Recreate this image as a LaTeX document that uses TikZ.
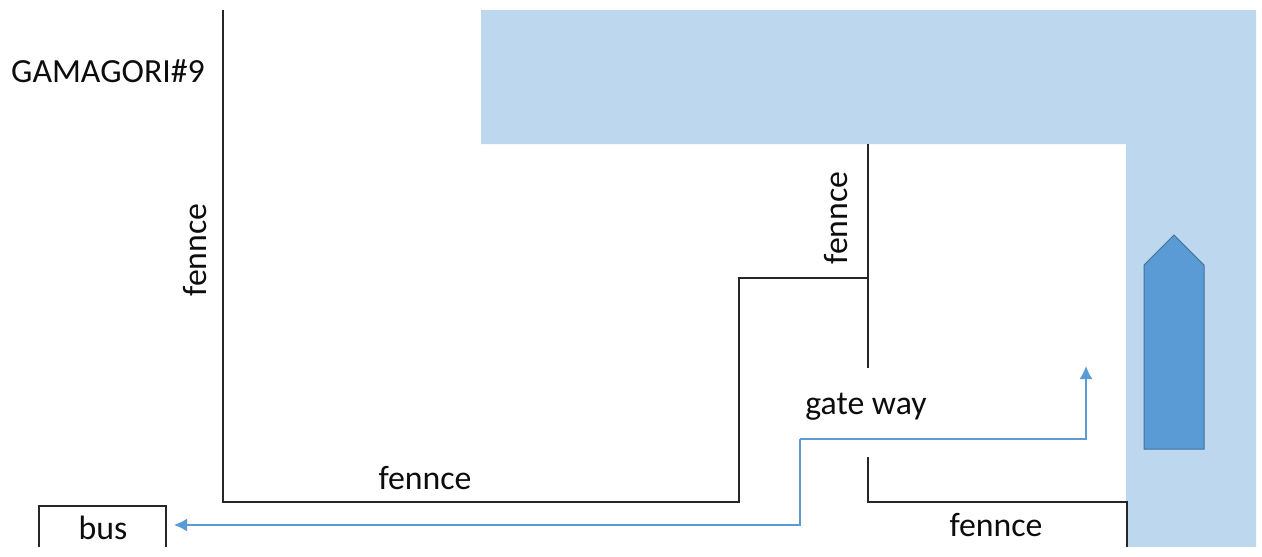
\documentclass[tikz,border=0pt]{standalone}
\usepackage{fontspec}
\setmainfont{Carlito}
\usetikzlibrary{arrows.meta}

\definecolor{waterblue}{HTML}{BDD7EE}
\definecolor{shipblue}{HTML}{5B9BD5}
\definecolor{shipedge}{HTML}{41719C}

\tikzset{
  fence/.style={draw=black!85, line width=1.6pt},
  route/.style={draw=shipblue, line width=1.6pt},
  label/.style={inner sep=0pt, font=\fontsize{33.8}{38}\selectfont, text=black!95}
}

\begin{document}
\begin{tikzpicture}[x=1pt,y=-1pt]
\useasboundingbox (0,0) rectangle (1262,557);

\fill[waterblue] (481,10) -- (1256,10) -- (1256,547) -- (1126,547) -- (1126,144) -- (481,144) -- cycle;
\filldraw[fill=shipblue, draw=shipedge, line width=1pt] (1144,265) -- (1174,235) -- (1204,265) -- (1204,449) -- (1144,449) -- cycle;

\coordinate (wallTop) at (223,10);
\coordinate (wallCorner) at (223,502);
\coordinate (stepBottom) at (739,502);
\coordinate (stepTop) at (739,278);
\coordinate (stepEnd) at (868,278);
\coordinate (upperTop) at (868,144);
\coordinate (upperEnd) at (868,368);
\coordinate (lowerTop) at (868,457);
\coordinate (lowerCorner) at (868,502);
\coordinate (quayCorner) at (1127,502);
\coordinate (quayEnd) at (1127,547);

\draw[fence] (wallTop) -- (wallCorner) -- (stepBottom) -- (stepTop) -- (stepEnd);
\draw[fence] (upperTop) -- (upperEnd);
\draw[fence] (lowerTop) -- (lowerCorner) -- (quayCorner) -- (quayEnd);

\coordinate (busLeft) at (39,547);
\coordinate (busTopLeft) at (39,506);
\coordinate (busTopRight) at (166,506);
\coordinate (busRight) at (166,547);
\draw[fence] (busLeft) -- (busTopLeft) -- (busTopRight) -- (busRight);

\coordinate (busEnd) at (174,525);
\coordinate (routeLow) at (800,525);
\coordinate (routeHigh) at (800,439);
\coordinate (routeTurn) at (1086,439);
\coordinate (shipEnd) at (1086,366);
\draw[route, -{Latex[length=13pt,width=13pt]}] (routeHigh) -- (routeLow) -- (busEnd);
\draw[route, -{Latex[length=13pt,width=13pt]}] (routeHigh) -- (routeTurn) -- (shipEnd);

\node[label] (ship name) at (108,71) {GAMAGORI\#9};
\node[label] (bus label) at (103,528) {bus};
\node[label] (gate label) at (866,407) {gate way};
\node[label, rotate=90] (fence west) at (195,250) {fennce};
\node[label, rotate=90] (fence inner) at (836,218) {fennce};
\node[label] (fence south) at (425,478) {fennce};
\node[label] (fence east) at (996,525) {fennce};

\end{tikzpicture}
\end{document}
